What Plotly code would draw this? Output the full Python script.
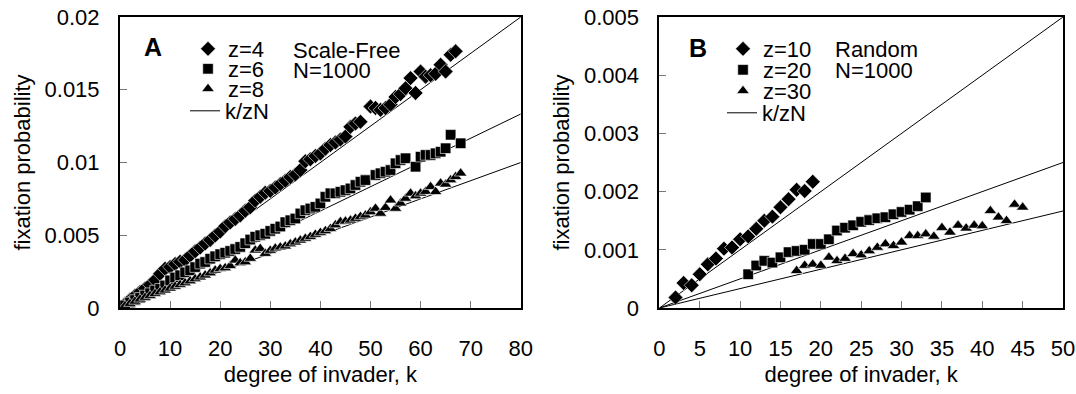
import plotly.graph_objects as go

N = 1000
FONT = "Liberation Sans, Arial, sans-serif"
FS = 22

# ---------- Panel A: Scale-Free, N=1000 ----------
a_z4_k = [1, 2, 3, 4, 5, 6, 7, 8, 9, 10, 11, 12, 13, 14, 15, 16, 17, 18, 19, 20,
          21, 22, 23, 24, 25, 26, 27, 28, 29, 30, 31, 32, 33, 34, 35, 36, 37, 38, 39, 40,
          41, 42, 43, 44, 45, 46, 47, 48, 50, 51, 52, 53, 54, 55, 56, 57, 58, 59, 60, 61,
          62, 63, 64, 65, 66, 67]
a_z4_p = [0.0003, 0.00058, 0.00085, 0.0011, 0.00135, 0.0016, 0.00192, 0.00235, 0.0027, 0.00282,
          0.00302, 0.00318, 0.0033, 0.0036, 0.0039, 0.00415, 0.00443, 0.00468, 0.00498, 0.00525,
          0.00562, 0.00588, 0.00612, 0.00636, 0.00668, 0.00692, 0.00738, 0.00765, 0.00792, 0.00805,
          0.00828, 0.00852, 0.00875, 0.009, 0.00918, 0.00948, 0.01008, 0.01022, 0.01045, 0.01062,
          0.01095, 0.0112, 0.01138, 0.01158, 0.01178, 0.01245, 0.01268, 0.0128, 0.01385, 0.01375,
          0.01362, 0.01375, 0.01398, 0.0145, 0.0147, 0.0151, 0.0158, 0.01478, 0.01625, 0.0159,
          0.016, 0.0161, 0.01672, 0.01625, 0.0174, 0.01764]

a_z6_k = [1, 2, 3, 4, 5, 6, 7, 8, 9, 10, 11, 12, 13, 14, 15, 16, 17, 18, 19, 20,
          21, 22, 23, 24, 25, 26, 27, 28, 29, 30, 31, 32, 33, 34, 35, 36, 37, 38, 39, 40,
          41, 42, 43, 44, 45, 46, 47, 48, 49, 51, 52, 53, 54, 55, 56, 57, 59, 60, 61, 62,
          63, 64, 65, 66, 68]
a_z6_p = [0.00018, 0.00038, 0.00055, 0.0007, 0.00086, 0.00102, 0.0012, 0.00132, 0.00155, 0.0019,
          0.0021, 0.00225, 0.00245, 0.00259, 0.00281, 0.00305, 0.00316, 0.00339, 0.00355, 0.0037,
          0.0038, 0.00392, 0.00405, 0.0042, 0.00445, 0.0047, 0.0049, 0.005, 0.0051, 0.0053,
          0.00545, 0.0056, 0.0059, 0.00603, 0.00615, 0.0065, 0.00672, 0.00684, 0.00695, 0.00719,
          0.00764, 0.00788, 0.00788, 0.00799, 0.0081, 0.00822, 0.00845, 0.00868, 0.00879, 0.00914,
          0.00926, 0.00937, 0.00948, 0.00994, 0.01017, 0.01029, 0.00971, 0.0104, 0.01052, 0.01052,
          0.01063, 0.01074, 0.01098, 0.0119, 0.01132]

a_z8_k = [1, 2, 3, 4, 5, 6, 7, 8, 9, 10, 11, 12, 13, 14, 15, 16, 17, 18, 19, 20,
          21, 22, 23, 24, 25, 26, 27, 28, 29, 30, 31, 32, 33, 34, 35, 36, 37, 38, 39, 40,
          41, 42, 43, 44, 45, 46, 47, 48, 49, 50, 51, 52, 53, 54, 55, 56, 57, 58, 59, 60,
          61, 62, 63, 64, 65, 66, 67, 68]
a_z8_p = [0.00015, 0.0003, 0.00045, 0.0006, 0.00072, 0.00085, 0.00098, 0.0011, 0.00122, 0.00135,
          0.00148, 0.0016, 0.00172, 0.00185, 0.002, 0.00212, 0.00225, 0.0024, 0.00259, 0.0027,
          0.00275, 0.0029, 0.00328, 0.0031, 0.00316, 0.0034, 0.00397, 0.00408, 0.00374, 0.00395,
          0.0041, 0.00418, 0.00425, 0.0044, 0.00452, 0.00465, 0.00478, 0.0049, 0.00505, 0.00518,
          0.0053, 0.00545, 0.0057, 0.00592, 0.00596, 0.00603, 0.00615, 0.00628, 0.00638, 0.0066,
          0.00684, 0.0065, 0.0069, 0.00741, 0.00684, 0.0072, 0.00753, 0.00788, 0.0077, 0.00788,
          0.008, 0.00833, 0.00799, 0.00857, 0.0085, 0.0088, 0.00902, 0.00926]

# ---------- Panel B: Random, N=1000 ----------
b_z10_k = [2, 3, 4, 5, 6, 7, 8, 9, 10, 11, 12, 13, 14, 15, 16, 17, 18, 19]
b_z10_p = [0.00018, 0.00043, 0.00039, 0.00058, 0.00075, 0.00085, 0.00102, 0.00104, 0.00118,
           0.00123, 0.00136, 0.0015, 0.00157, 0.00173, 0.00187, 0.00203, 0.00201, 0.00217]

b_z20_k = [11, 12, 13, 14, 15, 16, 17, 18, 19, 20, 21, 22, 23, 24, 25, 26, 27, 28, 29, 30,
           31, 32, 33]
b_z20_p = [0.00058, 0.00073, 0.00081, 0.00078, 0.00087, 0.00096, 0.00098, 0.001, 0.0011, 0.0011,
           0.00118, 0.00133, 0.00138, 0.00142, 0.00148, 0.00151, 0.00154, 0.00156, 0.00161, 0.00165,
           0.00169, 0.00175, 0.0019]

b_z30_k = [17, 18, 19, 20, 21, 22, 23, 24, 25, 26, 27, 28, 29, 30, 31, 32, 33, 34, 35, 36,
           37, 38, 39, 40, 41, 42, 43, 44, 45]
b_z30_p = [0.00064, 0.00073, 0.00075, 0.00073, 0.00087, 0.00081, 0.00085, 0.00093, 0.00091, 0.00098,
           0.00104, 0.0011, 0.00107, 0.00113, 0.00124, 0.00124, 0.00127, 0.00123, 0.00138, 0.0013,
           0.00142, 0.00137, 0.00142, 0.00141, 0.00167, 0.00156, 0.0015, 0.00178, 0.00173]

a_z_values = [4, 6, 8]
b_z_values = [10, 20, 30]
a_line_k = [0, 80]
b_line_k = [0, 50]

a_yticks = [0, 0.005, 0.01, 0.015, 0.02]
a_yticktext = ["0", "0.005", "0.01", "0.015", "0.02"]
b_yticks = [0, 0.001, 0.002, 0.003, 0.004, 0.005]
b_yticktext = ["0", "0.001", "0.002", "0.003", "0.004", "0.005"]

fig = go.Figure()

# k/zN reference lines
for i, z in enumerate(a_z_values):
    fig.add_trace(go.Scatter(
        x=a_line_k, y=[k / (z * N) for k in a_line_k], mode="lines",
        line=dict(color="black", width=1), name="k/zN",
        showlegend=(i == 0), legend="legend4", xaxis="x", yaxis="y", hoverinfo="skip"))
for i, z in enumerate(b_z_values):
    fig.add_trace(go.Scatter(
        x=b_line_k, y=[k / (z * N) for k in b_line_k], mode="lines",
        line=dict(color="black", width=1), name="k/zN",
        showlegend=(i == 0), legend="legend8", xaxis="x2", yaxis="y2", hoverinfo="skip"))

mline = dict(color="white", width=0.6)
series = [
    (a_z4_k, a_z4_p, "z=4", "diamond", 11.5, "x", "y", "legend"),
    (a_z6_k, a_z6_p, "z=6", "square", 10.5, "x", "y", "legend2"),
    (a_z8_k, a_z8_p, "z=8", "triangle-up", 11, "x", "y", "legend3"),
    (b_z10_k, b_z10_p, "z=10", "diamond", 11.5, "x2", "y2", "legend5"),
    (b_z20_k, b_z20_p, "z=20", "square", 10.5, "x2", "y2", "legend6"),
    (b_z30_k, b_z30_p, "z=30", "triangle-up", 11, "x2", "y2", "legend7"),
]
for kx, py, name, sym, sz, xa, ya, lg in series:
    fig.add_trace(go.Scatter(
        x=kx, y=py, mode="markers", name=name,
        marker=dict(symbol=sym, size=sz, color="black", line=mline),
        xaxis=xa, yaxis=ya, legend=lg))

W, H = 1076, 394
ML, MR, MT, MB = 120, 13, 17, 86
PW = W - ML - MR
PH = H - MT - MB


def px(xp):
    return (xp - ML) / PW


def py_(yp):
    return (H - MB - yp) / PH


def legend_at(x_px, y_px):
    return dict(x=px(x_px), y=py_(y_px), xanchor="left", yanchor="middle",
                bgcolor="rgba(0,0,0,0)", borderwidth=0,
                font=dict(family=FONT, size=FS, color="black"), itemwidth=30)


axis_common = dict(showline=True, linecolor="black", linewidth=2, mirror=True,
                   ticks="inside", ticklen=7, tickcolor="#777777", tickwidth=1,
                   showgrid=False, zeroline=False, automargin=False,
                   tickfont=dict(family=FONT, size=FS, color="black"))

fig.update_layout(
    template="none",
    width=W, height=H,
    margin=dict(l=ML, r=MR, t=MT, b=MB, autoexpand=False),
    paper_bgcolor="white", plot_bgcolor="white",
    font=dict(family=FONT, size=FS, color="black"),
    xaxis=dict(domain=[0.0, 0.425], range=[0, 80], tickvals=list(range(0, 81, 10)),
               ticklabelstandoff=20,
               title=dict(text="degree of invader, k", standoff=6,
                          font=dict(family=FONT, size=FS)), **axis_common),
    yaxis=dict(domain=[0, 1], range=[0, 0.02], tickvals=a_yticks, ticktext=a_yticktext,
               ticklabelstandoff=14,
               title=dict(text="fixation probability", standoff=8,
                          font=dict(family=FONT, size=FS)), **axis_common),
    xaxis2=dict(domain=[0.572, 1.0], range=[0, 50], tickvals=list(range(0, 51, 5)),
                anchor="y2", ticklabelstandoff=20,
                title=dict(text="degree of invader, k", standoff=6,
                           font=dict(family=FONT, size=FS)), **axis_common),
    yaxis2=dict(domain=[0, 1], range=[0, 0.005], tickvals=b_yticks, ticktext=b_yticktext,
                anchor="x2", ticklabelstandoff=14,
                title=dict(text="fixation probability", standoff=8,
                           font=dict(family=FONT, size=FS)), **axis_common),
    legend=legend_at(188, 49),
    legend2=legend_at(188, 69),
    legend3=legend_at(188, 89),
    legend4=legend_at(185, 111),
    legend5=legend_at(723, 49),
    legend6=legend_at(723, 70),
    legend7=legend_at(723, 91),
    legend8=legend_at(722, 113),
    showlegend=True,
)

ann_font = dict(family=FONT, size=FS, color="black")
annotations = [
    dict(text="<b>A</b>", x=px(153), y=py_(47), xanchor="center", yanchor="middle",
         font=dict(family=FONT, size=25, color="black")),
    dict(text="Scale-Free", x=px(291), y=py_(50), xanchor="left", yanchor="middle"),
    dict(text="N=1000", x=px(291), y=py_(70), xanchor="left", yanchor="middle"),
    dict(text="<b>B</b>", x=px(698), y=py_(48), xanchor="center", yanchor="middle",
         font=dict(family=FONT, size=25, color="black")),
    dict(text="Random", x=px(833), y=py_(49), xanchor="left", yanchor="middle"),
    dict(text="N=1000", x=px(833), y=py_(70), xanchor="left", yanchor="middle"),
]
for a in annotations:
    a.setdefault("font", ann_font)
    a.update(xref="paper", yref="paper", showarrow=False)
fig.update_layout(annotations=annotations)

fig.write_html(
    "out.html",
    config={"displayModeBar": False},
    post_script="document.body.style.margin='0';document.body.style.padding='0';",
)
